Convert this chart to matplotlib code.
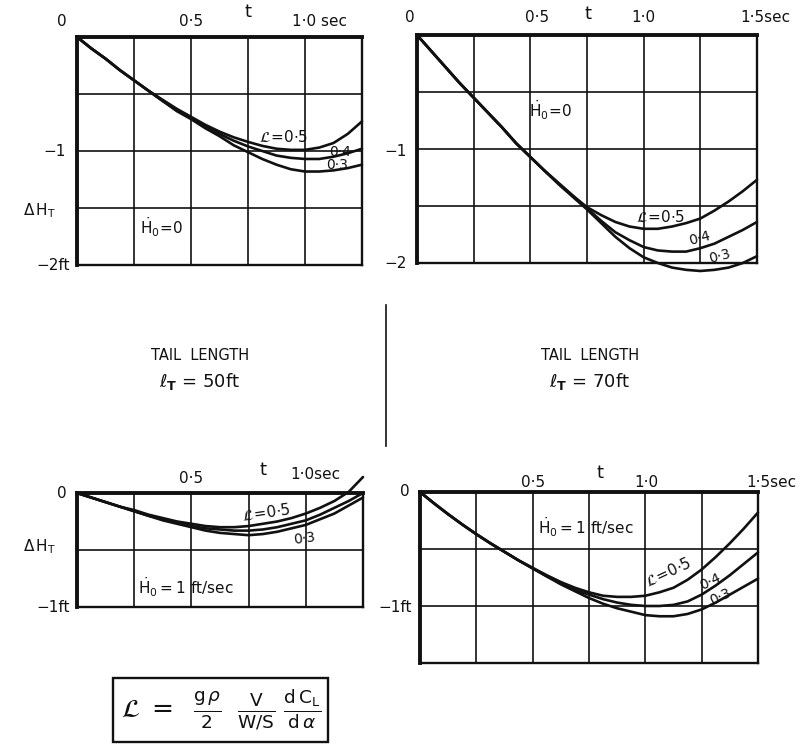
import matplotlib
matplotlib.use("Agg")
import matplotlib.pyplot as plt
from matplotlib.lines import Line2D
from matplotlib.patches import Rectangle

plt.rcParams['font.family'] = ['DejaVu Sans']
plt.rcParams['mathtext.fontset'] = 'dejavusans'

# ---------------- data ----------------
# Panel 1: tail length 50 ft, Hdot0 = 0
t1 = [0, 0.0625, 0.125, 0.1875, 0.25, 0.3125, 0.375, 0.4375, 0.5, 0.5625, 0.625,
      0.6875, 0.75, 0.8125, 0.875, 0.9375, 1.0, 1.0625, 1.125, 1.1875, 1.25]
p1_L05 = [0, -0.10, -0.19, -0.29, -0.38, -0.47, -0.55, -0.63, -0.70, -0.77, -0.83,
          -0.88, -0.92, -0.955, -0.98, -0.99, -0.99, -0.97, -0.93, -0.85, -0.74]
p1_L04 = [0, -0.10, -0.19, -0.29, -0.38, -0.47, -0.56, -0.64, -0.71, -0.78, -0.85,
          -0.91, -0.96, -1.00, -1.04, -1.06, -1.07, -1.07, -1.05, -1.02, -0.98]
p1_L03 = [0, -0.10, -0.19, -0.29, -0.38, -0.47, -0.56, -0.65, -0.72, -0.80, -0.87,
          -0.95, -1.01, -1.07, -1.12, -1.16, -1.18, -1.18, -1.17, -1.15, -1.12]

# Panel 2: tail length 70 ft, Hdot0 = 0
t2 = [0, 0.0625, 0.125, 0.1875, 0.25, 0.3125, 0.375, 0.4375, 0.5, 0.5625, 0.625,
      0.6875, 0.75, 0.8125, 0.875, 0.9375, 1.0, 1.0625, 1.125, 1.1875, 1.25,
      1.3125, 1.375, 1.4375, 1.5]
p2_L05 = [0, -0.14, -0.28, -0.42, -0.55, -0.68, -0.81, -0.95, -1.07, -1.19, -1.30,
          -1.41, -1.51, -1.58, -1.64, -1.68, -1.70, -1.70, -1.68, -1.65, -1.61,
          -1.54, -1.46, -1.37, -1.27]
p2_L04 = [0, -0.14, -0.28, -0.42, -0.55, -0.68, -0.81, -0.95, -1.07, -1.19, -1.30,
          -1.41, -1.52, -1.63, -1.73, -1.80, -1.86, -1.89, -1.90, -1.90, -1.87,
          -1.83, -1.77, -1.71, -1.64]
p2_L03 = [0, -0.14, -0.28, -0.42, -0.55, -0.68, -0.81, -0.95, -1.07, -1.19, -1.31,
          -1.42, -1.53, -1.65, -1.77, -1.87, -1.95, -2.00, -2.04, -2.06, -2.07,
          -2.06, -2.04, -2.00, -1.94]

# Panel 3: tail length 50 ft, Hdot0 = 1 ft/sec
t3 = t1
p3_L05 = [0, -0.04, -0.08, -0.12, -0.15, -0.19, -0.22, -0.25, -0.27, -0.29, -0.30,
          -0.30, -0.29, -0.27, -0.25, -0.22, -0.18, -0.13, -0.07, 0.01, 0.14]
p3_L04 = [0, -0.04, -0.08, -0.12, -0.16, -0.20, -0.23, -0.26, -0.29, -0.31, -0.32,
          -0.33, -0.33, -0.32, -0.30, -0.27, -0.24, -0.19, -0.13, -0.07, 0.0]
p3_L03 = [0, -0.04, -0.08, -0.12, -0.16, -0.20, -0.24, -0.27, -0.30, -0.33, -0.35,
          -0.36, -0.37, -0.36, -0.34, -0.31, -0.28, -0.23, -0.18, -0.11, -0.04]

# Panel 4: tail length 70 ft, Hdot0 = 1 ft/sec
t4 = t2
p4_L05 = [0, -0.10, -0.195, -0.285, -0.37, -0.45, -0.525, -0.60, -0.665, -0.73, -0.79,
          -0.84, -0.88, -0.91, -0.92, -0.92, -0.91, -0.88, -0.84, -0.77, -0.68,
          -0.57, -0.45, -0.32, -0.18]
p4_L04 = [0, -0.10, -0.195, -0.285, -0.37, -0.45, -0.525, -0.60, -0.67, -0.74, -0.80,
          -0.86, -0.90, -0.94, -0.97, -0.99, -1.00, -1.00, -0.99, -0.96, -0.90,
          -0.82, -0.73, -0.63, -0.53]
p4_L03 = [0, -0.10, -0.195, -0.285, -0.37, -0.45, -0.525, -0.60, -0.67, -0.74, -0.81,
          -0.87, -0.93, -0.98, -1.02, -1.05, -1.08, -1.09, -1.09, -1.07, -1.03,
          -0.97, -0.90, -0.83, -0.76]

INK = '#111111'
FS = 11

fig = plt.figure(figsize=(8.07, 7.46), dpi=100)
fig.patch.set_facecolor('white')


def frame(ax, xmax, ymin):
    ax.set_xlim(0, xmax)
    ax.set_ylim(ymin, 0)
    xs = [i * 0.25 for i in range(1, int(round(xmax / 0.25)))]
    ys = [-i * 0.5 for i in range(1, int(round(-ymin / 0.5)))]
    for x in xs:
        ax.axvline(x, color=INK, lw=1.2, zorder=1)
    for y in ys:
        ax.axhline(y, color=INK, lw=1.2, zorder=1)
    ax.set_xticks([])
    ax.set_yticks([])
    for s in ['top', 'left']:
        ax.spines[s].set_linewidth(2.8)
        ax.spines[s].set_color(INK)
    for s in ['bottom', 'right']:
        ax.spines[s].set_linewidth(1.7)
        ax.spines[s].set_color(INK)


def curves(ax, t, series):
    for y in series:
        ax.plot(t, y, color=INK, lw=1.9, clip_on=False, zorder=3,
                solid_capstyle='round', solid_joinstyle='round')


def txt(ax, x, y, s, ha='left', va='center', fs=FS, rot=0):
    ax.text(x, y, s, transform=ax.transAxes, ha=ha, va=va, fontsize=fs,
            rotation=rot, color=INK, clip_on=False)


W, H = 807.0, 746.0


def rect(l, r, top, bot):
    return [l / W, 1 - bot / H, (r - l) / W, (bot - top) / H]


DH = r'$\Delta\,\mathrm{H}_\mathrm{T}$'
H00 = r'$\dot{\mathrm{H}}_\mathrm{0}\!=\!0$'
H01 = r'$\dot{\mathrm{H}}_\mathrm{0} = 1\ \mathrm{ft}/\mathrm{sec}$'
L05 = r'$\mathcal{L}\!=\!0{\cdot}5$'

# ---- Panel 1 ----
ax1 = fig.add_axes(rect(77, 362, 37, 265))
frame(ax1, 1.25, -2)
curves(ax1, t1, [p1_L05, p1_L04, p1_L03])
txt(ax1, -0.053, 1.066, '0', ha='center')
txt(ax1, 0.40, 1.066, '0·5', ha='center')
txt(ax1, 0.60, 1.11, 't', ha='center', fs=13)
txt(ax1, 0.755, 1.066, '1·0 sec')
txt(ax1, -0.04, 0.496, '−1', ha='right')
txt(ax1, -0.13, 0.24, DH, ha='center', fs=11)
txt(ax1, -0.025, 0.0, '−2ft', ha='right')
txt(ax1, 0.22, 0.167, H00, fs=11)
txt(ax1, 0.64, 0.56, L05, fs=11)
txt(ax1, 0.885, 0.497, '0·4', fs=10)
txt(ax1, 0.875, 0.44, '0·3', fs=10)

# ---- Panel 2 ----
ax2 = fig.add_axes(rect(417, 757, 35, 263))
frame(ax2, 1.5, -2)
curves(ax2, t2, [p2_L05, p2_L04, p2_L03])
txt(ax2, -0.02, 1.075, '0', ha='center')
txt(ax2, 0.353, 1.075, '0·5', ha='center')
txt(ax2, 0.503, 1.09, 't', ha='center', fs=13)
txt(ax2, 0.665, 1.075, '1·0', ha='center')
txt(ax2, 0.95, 1.075, '1·5sec')
txt(ax2, -0.03, 0.487, '−1', ha='right')
txt(ax2, -0.03, 0.0, '−2', ha='right')
txt(ax2, 0.33, 0.671, H00, fs=11)
txt(ax2, 0.645, 0.2, L05, fs=11)
txt(ax2, 0.795, 0.11, '0·4', fs=10, rot=15)
txt(ax2, 0.855, 0.03, '0·3', fs=10, rot=15)

# ---- Panel 3 ----
ax3 = fig.add_axes(rect(77, 363, 493, 607))
frame(ax3, 1.25, -1)
curves(ax3, t3, [p3_L05, p3_L04, p3_L03])
txt(ax3, -0.052, 1.0, '0', ha='center')
txt(ax3, 0.40, 1.13, '0·5', ha='center')
txt(ax3, 0.65, 1.2, 't', ha='center', fs=13)
txt(ax3, 0.745, 1.16, '1·0sec')
txt(ax3, -0.13, 0.53, DH, ha='center', fs=11)
txt(ax3, -0.025, 0.0, '−1ft', ha='right')
txt(ax3, 0.213, 0.175, H01, fs=11)
txt(ax3, 0.575, 0.82, L05, fs=11, rot=8)
txt(ax3, 0.755, 0.60, '0·3', fs=10, rot=8)

# ---- Panel 4 ----
ax4 = fig.add_axes(rect(420, 758, 492, 663))
frame(ax4, 1.5, -1.5)
curves(ax4, t4, [p4_L05, p4_L04, p4_L03])
txt(ax4, -0.044, 1.0, '0', ha='center')
txt(ax4, 0.334, 1.055, '0·5', ha='center')
txt(ax4, 0.533, 1.11, 't', ha='center', fs=13)
txt(ax4, 0.67, 1.055, '1·0', ha='center')
txt(ax4, 0.965, 1.055, '1·5sec')
txt(ax4, -0.025, 0.327, '−1ft', ha='right')
txt(ax4, 0.35, 0.795, H01, fs=11)
txt(ax4, 0.735, 0.53, L05, ha='center', fs=11, rot=25)
txt(ax4, 0.86, 0.474, '0·4', ha='center', fs=10, rot=25)
txt(ax4, 0.89, 0.386, '0·3', ha='center', fs=10, rot=25)

# ---- middle captions ----
fig.text(200 / W, 1 - 356 / H, 'TAIL  LENGTH', ha='center', va='center', fontsize=10.5, color=INK)
fig.text(200 / W, 1 - 382 / H, r'$\ell_{\mathbf{T}}$ = 50ft', ha='center', va='center', fontsize=13, color=INK)
fig.text(590 / W, 1 - 356 / H, 'TAIL  LENGTH', ha='center', va='center', fontsize=10.5, color=INK)
fig.text(590 / W, 1 - 382 / H, r'$\ell_{\mathbf{T}}$ = 70ft', ha='center', va='center', fontsize=13, color=INK)
fig.add_artist(Line2D([386 / W, 386 / W], [1 - 305 / H, 1 - 446 / H],
                      transform=fig.transFigure, color=INK, lw=1.2))

# ---- formula box ----
fig.add_artist(Rectangle((113 / W, 1 - 742 / H), (328 - 113) / W, (742 - 678) / H,
                         transform=fig.transFigure, fill=False, ec=INK, lw=1.7))
fig.text(221 / W, 1 - 710 / H,
         r'$\mathcal{L}\;=\;\;\frac{\mathrm{g}\,\rho}{2}\;\;\frac{\mathrm{V}}{\mathrm{W/S}}\;'
         r'\frac{\mathrm{d}\,\mathrm{C}_\mathrm{L}}{\mathrm{d}\,\alpha}$',
         ha='center', va='center', fontsize=19, color=INK)

fig.savefig('out.png', dpi=100, facecolor='white')
